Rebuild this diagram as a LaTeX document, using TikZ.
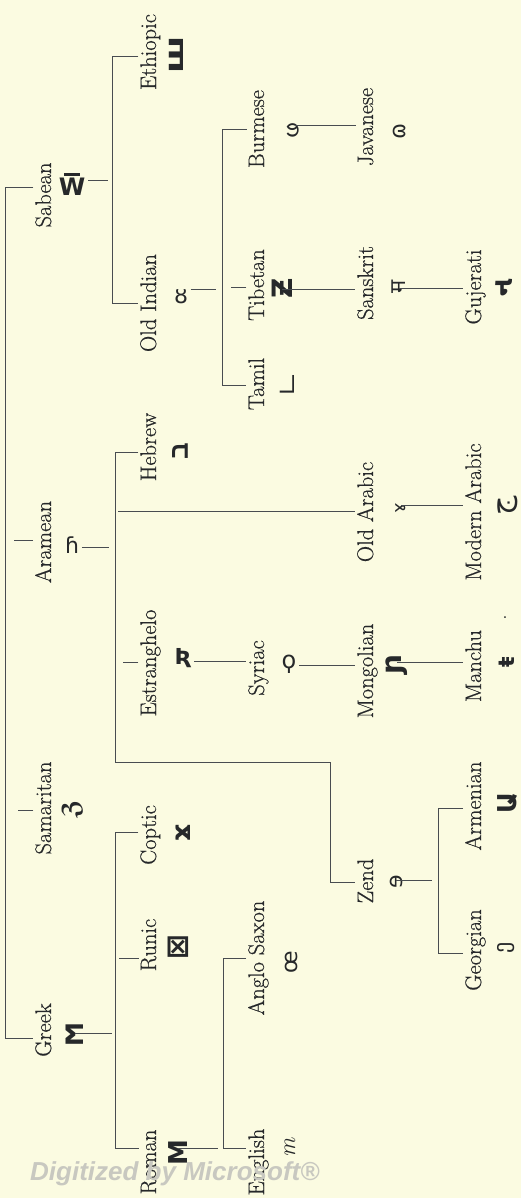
\documentclass[tikz,border=0pt]{standalone}
\usepackage{fontspec}
\usepackage{graphicx}
\newfontfamily\lblfont{Latin Modern Roman}[FakeBold=0.5]
\newfontfamily\dejavu{DejaVu Sans}
\newfontfamily\wmfont{Liberation Sans}
\newfontfamily\tamilfont[Script=Tamil]{Hind Madurai}
\newfontfamily\devfont[Script=Devanagari]{Noto Sans}
\newfontfamily\gujfont[Script=Gujarati]{Noto Sans Gujarati UI}
\newfontfamily\myanfont[Script=Myanmar]{Noto Sans Myanmar UI}
\newfontfamily\hebfont[Script=Hebrew]{Liberation Sans}
\newfontfamily\arabfont[Script=Arabic]{DejaVu Sans}
\usetikzlibrary{calc}
\definecolor{paper}{RGB}{251,251,225}
\definecolor{ink}{RGB}{38,40,42}
\definecolor{lnc}{RGB}{72,76,80}
\definecolor{wmc}{RGB}{200,200,192}
\newcommand\gs[1]{\fontsize{#1}{#1}\selectfont}
\begin{document}
\begin{tikzpicture}[x=1pt,y=-1pt,
  lbl/.style={rotate=90,anchor=base,text=ink,inner sep=0pt,outer sep=2pt,
    font=\lblfont\fontsize{22.5}{26}\selectfont},
  gl/.style={text=ink,inner sep=0pt,outer sep=3pt,font=\dejavu\fontsize{22}{22}\selectfont},
  glr/.style={gl,rotate=90},
  ln/.style={draw=lnc,line width=1pt}]
\fill[paper] (0,0) rectangle (521,1198);
\useasboundingbox (0,0) rectangle (521,1198);

% ---- names, level 1
\node[lbl] (nSab) at (51,195) {Sabean};
\node[lbl] (nAra) at (51,542) {Aramean};
\node[lbl] (nSam) at (51,808) {Samaritan};
\node[lbl] (nGre) at (51,1030) {Greek};
% ---- level 2
\node[lbl] (nEth) at (156,52) {Ethiopic};
\node[lbl] (nOIn) at (156,303) {Old Indian};
\node[lbl] (nHeb) at (156,447) {Hebrew};
\node[lbl] (nEst) at (156,663) {Estranghelo};
\node[lbl] (nCop) at (156,835) {Coptic};
\node[lbl] (nRun) at (156,945) {Runic};
\node[lbl] (nRom) at (156,1162) {Roman};
% ---- level 3
\node[lbl] (nBur) at (264,129) {Burmese};
\node[lbl] (nTib) at (264,285) {Tibetan};
\node[lbl] (nTam) at (264,384) {Tamil};
\node[lbl] (nSyr) at (264,668) {Syriac};
\node[lbl] (nAng) at (264,958) {Anglo Saxon};
\node[lbl] (nEng) at (264,1162) {English};
% ---- level 4
\node[lbl] (nJav) at (373,127) {Javanese};
\node[lbl] (nSan) at (373,283) {Sanskrit};
\node[lbl] (nOAr) at (373,512) {Old Arabic};
\node[lbl] (nMon) at (373,671) {Mongolian};
\node[lbl] (nZen) at (373,881) {Zend};
% ---- level 5
\node[lbl] (nGuj) at (481,287) {Gujerati};
\node[lbl] (nMAr) at (481,512) {Modern Arabic};
\node[lbl] (nMan) at (481,666) {Manchu};
\node[lbl] (nArm) at (481,806) {Armenian};
\node[lbl] (nGeo) at (481,950) {Georgian};

% ---- letter samples
\node[gl] (gSab) at (72,184) {\shortstack{\rule{16pt}{2.8pt}\\[-1pt]\gs{24}\bfseries W}};
\node[glr] (gEth) at (176,55) {\gs{26}\bfseries\scalebox{1.35}[1]{ш}};
\node[gl] (gOIn) at (181,297) {ȣ};
\node[glr] (gBur) at (295,130) {\myanfont\gs{24}ဖ};
\node[glr] (gTib) at (282,288) {\gs{28}\bfseries Ƶ};
\node[glr] (gTam) at (287,385) {\tamilfont\gs{26}ட};
\node[glr] (gJav) at (400,131) {ɷ};
\node[glr] (gSan) at (399,287) {\devfont\gs{22}म};
\node[glr] (gGuj) at (504,288) {\gujfont\gs{28}\bfseries ન};
\node[gl] (gAra) at (72,545) {ɦ};
\node[glr] (gHeb) at (180,451) {\hebfont\gs{26}\bfseries ב};
\node[glr] (gOAr) at (401,508) {\gs{18}ɤ};
\node[glr] (gMAr) at (508,506) {\arabfont\gs{30}ج};
\node[gl] (gEst) at (183,658) {\bfseries Ʀ};
\node[gl] (gSyr) at (289,664) {\gs{24}ϙ};
\node[glr] (gMon) at (397,665) {\gs{28}\bfseries ɲ};
\node[glr] (gMan) at (507,662) {\gs{22}\bfseries ŧ};
\node[gl,font=\dejavu\gs{14}] (gManDot) at (505,620) {·};
\node[glr] (gSam) at (73,809) {\gs{24}\bfseries ℨ};
\node[glr] (gCop) at (183,833) {\gs{26}\bfseries ϫ};
\node[glr] (gZen) at (396,882) {ɘ};
\node[glr] (gArm) at (508,803) {\gs{26}\bfseries Ա};
\node[glr] (gGeo) at (506,948) {ე};
\node[glr] (gGre) at (75,1035) {\gs{24}\bfseries Ϻ};
\node[gl] (gRun) at (178,947) {\gs{30}\bfseries ⊠};
\node[glr] (gRom) at (178,1153) {\gs{26}\bfseries M};
\node[glr] (gAng) at (291,962) {œ};
\node[glr] (gEng) at (290,1148) {\normalfont\itshape\gs{24}m};

% ---- root
\coordinate (R1) at (5,188);
\coordinate (R4) at (5,1038);
\draw[ln] (R1 -| nSab.north) -- (R1) -- (R4) -- (R4 -| nGre.north);
\draw[ln] (nAra.north |- 0,540) -- ++(-19,0);
\draw[ln] (nSam.north |- 0,810) -- ++(-15,0);

% ---- Sabean
\coordinate (S1) at (112,57);
\coordinate (S2) at (112,303);
\draw[ln] (gSab.east |- 0,181) -- ($(S1 |- 0,181)+(-4,0)$);
\draw[ln] (S1 -| nEth.north) -- (S1) -- (S2) -- (S2 -| nOIn.north);
\coordinate (O1) at (222,130);
\coordinate (O2) at (222,385);
\draw[ln] (gOIn.east |- 0,289) -- ($(O1 |- 0,289)+(-6,0)$);
\draw[ln] (O1 -| nBur.north) -- (O1) -- (O2) -- (O2 -| nTam.north);
\draw[ln] (nTib.north |- 0,287) -- ++(-15,0);
\draw[ln] (gBur.east |- 0,126) -- (nJav.north |- 0,126);
\draw[ln] (gTib.east |- 0,289) -- (nSan.north |- 0,289);
\draw[ln] (gSan.east |- 0,288) -- (nGuj.north |- 0,288);

% ---- Aramean
\coordinate (A1) at (115,452);
\coordinate (A2) at (115,762);
\coordinate (A3) at (330,762);
\coordinate (A4) at (330,882);
\draw[ln] (gAra.east |- 0,547) -- ($(A1 |- 0,547)+(-6,0)$);
\draw[ln] (A1 -| nHeb.north) -- (A1) -- (A2) -- (A3) -- (A4) -- (A4 -| nZen.north);
\draw[ln] ($(A1 |- 0,511)+(3,0)$) -- (nOAr.north |- 0,511);
\draw[ln] (gOAr.east |- 0,505) -- (nMAr.north |- 0,505);
\draw[ln] (nEst.north |- 0,662) -- ++(-15,0);
\draw[ln] (gEst.east |- 0,661) -- (nSyr.north |- 0,661);
\draw[ln] (gSyr.east |- 0,665) -- (nMon.north |- 0,665);
\draw[ln] (gMon.east |- 0,662) -- (nMan.north |- 0,662);
\coordinate (Z1) at (438,808);
\coordinate (Z2) at (438,953);
\draw[ln] (gZen.east |- 0,880) -- ($(Z1 |- 0,880)+(-6,0)$);
\draw[ln] (Z1 -| nArm.north) -- (Z1) -- (Z2) -- (Z2 -| nGeo.north);

% ---- Greek
\coordinate (G1) at (115,832);
\coordinate (G2) at (115,1148);
\draw[ln] (gGre.east |- 0,1033) -- ($(G1 |- 0,1033)+(-3,0)$);
\draw[ln] (G1 -| nCop.north) -- (G1) -- (G2) -- (G2 -| nRom.north);
\draw[ln] (nRun.north |- 0,958) -- ++(-20,0);
\coordinate (E1) at (223,958);
\coordinate (E2) at (223,1148);
\draw[ln] (gRom.east |- 0,1148) -- ($(E1 |- 0,1148)+(-5,0)$);
\draw[ln] (E1 -| nAng.north) -- (E1) -- (E2) -- (E2 -| nEng.north);

% ---- scan watermark
\node[anchor=base west,inner sep=0pt,text=wmc,
  font=\wmfont\bfseries\itshape\fontsize{26}{26}\selectfont] (wm) at (30,1180) {Digitized by Microsoft®};
\end{tikzpicture}
\end{document}
